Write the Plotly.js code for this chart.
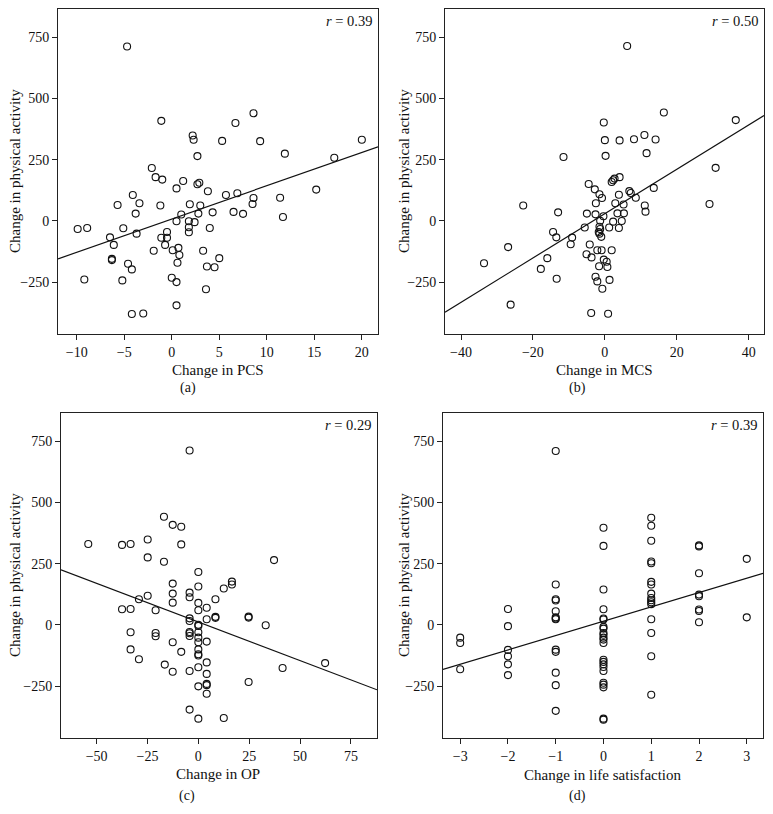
<!DOCTYPE html>
<html>
<head>
<meta charset="utf-8">
<script src="https://cdn.plot.ly/plotly-3.0.1.min.js"></script>
<style>html,body{margin:0;padding:0;background:#fff}#chart{width:773px;height:814px}</style>
</head>
<body>
<div id="chart"></div>
<script>
// ---- Data ----
// (a) Change in PCS vs change in physical activity
const pcsX = [-4.7,-1.1,2.2,2.3,5.3,6.7,8.6,9.3,2.7,11.9,17.1,20.0,-2.1,-1.7,-1.0,1.2,0.5,2.7,2.9,3.8,-4.1,5.7,6.9,8.6,11.4,15.2,
  -5.7,-3.4,-1.2,1.9,3.0,-3.8,1.0,2.8,4.3,6.5,7.5,8.5,11.7,-9.9,-8.9,-5.1,-3.7,-6.5,-6.1,-6.3,-6.3,-0.5,-1.1,-0.5,-0.7,0.5,1.8,2.4,1.8,1.8,4.0,
  -1.9,0.1,0.7,0.8,0.6,3.3,5.0,3.7,4.5,-4.6,-4.2,-9.2,-5.2,0.0,0.5,3.6,0.5,-4.2,-3.0];
const pcsPA = [713,409,349,332,327,400,440,326,265,275,258,332,216,179,169,163,133,150,156,121,106,106,113,94,95,128,
  65,72,63,68,63,30,26,30,35,37,29,69,16,-33,-29,-30,-52,-67,-98,-155,-160,-45,-69,-69,-98,-1,-1,-5,-26,-46,-29,
  -122,-120,-110,-139,-171,-122,-152,-186,-189,-175,-198,-239,-243,-232,-250,-279,-345,-380,-378];
const fitPcsX = [-11.97, 21.7];
const fitPcsY = [-155, 303];

// (b) Change in MCS
const mcsX = [6.2,16.4,36.4,-0.3,0.0,4.1,8.1,11.0,14.1,11.6,0.2,-11.5,30.8,1.9,2.3,2.7,4.1,-4.5,-2.8,-1.5,-0.8,3.9,6.8,7.2,8.6,13.6,
  -22.7,29.1,-2.5,2.9,5.2,11.1,11.3,-13.0,-5.0,-2.6,-0.4,3.5,5.3,-1.3,2.3,4.7,-5.6,-1.5,-1.3,-1.7,-1.5,1.2,3.9,-1.0,
  -14.4,-13.5,-9.1,-9.5,-4.2,-26.9,-2.1,-0.9,1.9,-5.1,-3.7,-16.0,-0.3,0.5,0.7,-1.6,-33.6,-17.8,-13.4,-2.6,-2.1,1.3,-0.7,-26.2,-3.8,0.9];
const mcsPA = [715,443,412,402,330,329,334,351,333,277,266,261,217,159,166,173,179,151,129,109,94,107,122,114,95,135,
  63,69,72,72,67,63,38,35,30,27,19,31,31,1,-3,0,-27,-24,-33,-45,-52,-27,-29,-65,
  -45,-67,-68,-95,-96,-107,-120,-120,-120,-136,-149,-152,-158,-167,-188,-185,-173,-196,-236,-228,-247,-241,-277,-342,-376,-379];
const fitMcsX = [-44.45, 44.25];
const fitMcsY = [-373, 431];

// (c) Change in OP
const opX = [-4.3,-16.9,-12.6,-8.4,-54.1,-37.5,-33.3,-24.9,-8.4,-24.9,-16.9,37.2,0,-12.6,0,12.5,16.5,16.5,-12.6,-4.3,-24.9,-4.3,-29.2,8.4,
  -37.5,-33.3,-21.0,-12.6,0,0,4.1,8.4,8.4,24.7,24.7,33.1,-4.3,-4.3,4.1,0,0,-33.3,-21.0,-21.0,-4.3,-4.3,-4.3,0,0,0,4.1,-12.6,
  -33.3,-8.4,0,0,0,-29.2,-16.5,-12.6,-4.3,4.1,0,4.1,4.1,4.1,0,4.1,24.7,41.4,62.3,-4.3,0,12.5];
const opPA = [713,442,409,401,331,327,331,349,329,276,258,265,216,169,157,149,177,165,128,132,119,113,105,105,
  64,65,60,91,90,60,70,33,29,34,30,-1,27,16,23,1,-4,-30,-33,-46,-29,-34,-45,-30,-52,-71,-68,-71,
  -100,-110,-100,-120,-125,-140,-162,-191,-188,-153,-173,-200,-241,-246,-251,-281,-233,-176,-156,-346,-383,-380];
const fitOpX = [-67.5, 87.8];
const fitOpY = [225, -265];

// (d) Change in life satisfaction (one row per score)
const lsX = [
  -3,-3,-3,
  -2,-2,-2,-2,-2,-2,
  -1,-1,-1,-1,-1,-1,-1,-1,-1,-1,-1,-1,-1,
  0,0,0,0,0,0,0,0,0,0,0,0,0,0,0,0,0,0,0,0,0,0,0,
  1,1,1,1,1,1,1,1,1,1,1,1,1,1,1,1,
  2,2,2,2,2,2,2,2,
  3,3];
const lsPA = [
  -52,-74,-181,
  65,-5,-102,-128,-161,-205,
  711,165,105,56,31,26,23,-101,-110,-195,-246,-351,100,
  397,323,145,64,26,22,-8,-15,-33,-40,-52,-60,-74,-142,-151,-161,-172,-188,-236,-244,-255,-383,-387,
  438,405,344,259,252,176,165,128,110,101,93,85,23,-33,-128,-285,
  325,321,211,124,117,63,57,11,
  270,31];
const fitLsX = [-3.36, 3.34];
const fitLsY = [-182, 211];

// ---- Styling ----
const FONT = 'Liberation Serif, Times New Roman, serif';
const W = 773, H = 814;
const px = v => v / W;
const py = v => 1 - v / H;

function pts(x, y, xa, ya) {
  return {x, y, xaxis: xa, yaxis: ya, type: 'scatter', mode: 'markers', showlegend: false,
    marker: {symbol: 'circle-open', size: 7, color: '#111', line: {width: 1.1, color: '#111'}}, hoverinfo: 'x+y'};
}
function fit(x, y, xa, ya) {
  return {x, y, xaxis: xa, yaxis: ya, type: 'scatter', mode: 'lines', showlegend: false,
    line: {color: '#111', width: 1.2}, hoverinfo: 'skip'};
}

const data = [
  pts(pcsX, pcsPA, 'x', 'y'), fit(fitPcsX, fitPcsY, 'x', 'y'),
  pts(mcsX, mcsPA, 'x2', 'y2'), fit(fitMcsX, fitMcsY, 'x2', 'y2'),
  pts(opX, opPA, 'x3', 'y3'), fit(fitOpX, fitOpY, 'x3', 'y3'),
  pts(lsX, lsPA, 'x4', 'y4'), fit(fitLsX, fitLsY, 'x4', 'y4')
];

function xax(domain, range, dtick, anchor) {
  return {domain, range, anchor, dtick, tick0: 0, showgrid: false, zeroline: false,
    showline: true, mirror: true, linecolor: '#222', linewidth: 1,
    ticks: 'outside', ticklen: 5, tickwidth: 1, tickcolor: '#222',
    tickfont: {family: FONT, size: 14, color: '#111'}, automargin: false};
}
function yax(domain, anchor) {
  return {domain, range: [-462, 866], anchor, dtick: 250, tick0: 0, showgrid: false, zeroline: false,
    showline: true, mirror: true, linecolor: '#222', linewidth: 1,
    ticks: 'outside', ticklen: 5, tickwidth: 1, tickcolor: '#222',
    tickfont: {family: FONT, size: 14, color: '#111'}, automargin: false};
}

const topRow = [py(334), py(9)];
const botRow = [py(738), py(413)];

const layout = {
  width: W, height: H,
  margin: {l: 0, r: 0, t: 0, b: 0},
  paper_bgcolor: '#fff', plot_bgcolor: '#fff',
  font: {family: FONT, color: '#111'},
  xaxis: xax([px(58), px(378)], [-11.97, 21.7], 5, 'y'),
  yaxis: yax(topRow, 'x'),
  xaxis2: xax([px(445), px(764)], [-44.45, 44.25], 20, 'y2'),
  yaxis2: yax(topRow, 'x2'),
  xaxis3: xax([px(61), px(377)], [-67.5, 87.8], 25, 'y3'),
  yaxis3: yax(botRow, 'x3'),
  xaxis4: xax([px(443), px(763)], [-3.36, 3.34], 1, 'y4'),
  yaxis4: yax(botRow, 'x4'),
  annotations: []
};

function ann(text, x, y, size, extra) {
  return Object.assign({text, x: px(x), y: py(y), xref: 'paper', yref: 'paper', showarrow: false,
    xanchor: 'center', yanchor: 'middle', font: {family: FONT, size, color: '#111'}}, extra || {});
}
const A = layout.annotations;
// x-axis titles
A.push(ann('Change in PCS', 218, 370, 15));
A.push(ann('Change in MCS', 604, 370, 15));
A.push(ann('Change in OP', 218, 774, 15));
A.push(ann('Change in life satisfaction', 603, 775, 15));
// y-axis titles
A.push(ann('Change in physical activity', 15, 171, 15, {textangle: -90}));
A.push(ann('Change in physical activity', 404, 171, 15, {textangle: -90}));
A.push(ann('Change in physical activity', 15, 575, 15, {textangle: -90}));
A.push(ann('Change in physical activity', 404, 575, 15, {textangle: -90}));
// panel labels
A.push(ann('(a)', 188, 388, 14));
A.push(ann('(b)', 577, 388, 14));
A.push(ann('(c)', 187, 796, 14));
A.push(ann('(d)', 577, 796, 14));
// r values
const rv = [['0.39', 'x', 'y'], ['0.50', 'x2', 'y2'], ['0.29', 'x3', 'y3'], ['0.39', 'x4', 'y4']];
rv.forEach(([r, xa, ya]) => {
  A.push({text: '<i>r</i> = ' + r, xref: xa + ' domain', yref: ya + ' domain', x: 1, y: 1,
    xanchor: 'right', yanchor: 'top', xshift: -4, yshift: -2, showarrow: false,
    font: {family: FONT, size: 14.5, color: '#111'}});
});

Plotly.newPlot('chart', data, layout, {staticPlot: true, displayModeBar: false});
</script>
</body>
</html>
